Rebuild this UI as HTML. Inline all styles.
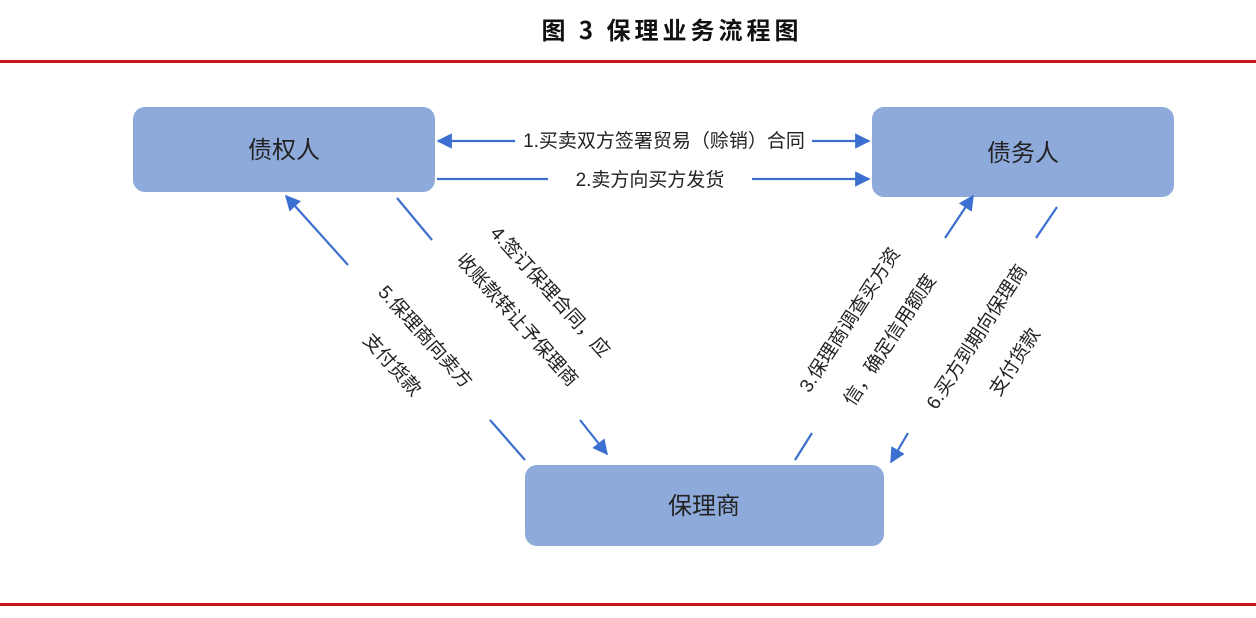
<!DOCTYPE html>
<html><head><meta charset="utf-8"><style>
html,body{margin:0;padding:0;background:#fff;}
svg{display:block;}
</style></head><body>
<svg width="1256" height="618" viewBox="0 0 1256 618" xmlns="http://www.w3.org/2000/svg" font-family="'Liberation Sans','Noto Sans CJK SC',sans-serif">
<defs>
<marker id="ah" viewBox="0 0 10 10" refX="9" refY="5" markerWidth="7" markerHeight="7" orient="auto-start-reverse" markerUnits="strokeWidth"><path d="M0,0 L10,5 L0,10 z" fill="#3b6fd0"/></marker>
</defs>
<text x="672" y="39" text-anchor="middle" font-family="'Noto Sans CJK SC',sans-serif" font-weight="bold" font-size="24" letter-spacing="4" fill="#111">图 3 保理业务流程图</text>
<rect x="0" y="60" width="1256" height="3" fill="#c8161d"/>
<rect x="0" y="603" width="1256" height="3" fill="#c8161d"/>

<rect x="133" y="107" width="302" height="85" rx="12" fill="#8eaadb"/>
<rect x="872" y="107" width="302" height="90" rx="12" fill="#8eaadb"/>
<rect x="525" y="465" width="359" height="81" rx="12" fill="#8eaadb"/>
<text x="284" y="158" text-anchor="middle" font-size="24" fill="#222">债权人</text>
<text x="1023" y="161" text-anchor="middle" font-size="24" fill="#222">债务人</text>
<text x="704" y="514" text-anchor="middle" font-size="24" fill="#222">保理商</text>

<g stroke="#3b6fd0" stroke-width="2.2" fill="none">
<line x1="515" y1="141" x2="438" y2="141" marker-end="url(#ah)"/>
<line x1="812" y1="141" x2="869" y2="141" marker-end="url(#ah)"/>
<line x1="437" y1="179" x2="548" y2="179"/>
<line x1="752" y1="179" x2="869" y2="179" marker-end="url(#ah)"/>
<line x1="348" y1="265" x2="286" y2="196" marker-end="url(#ah)"/>
<line x1="490" y1="420" x2="525" y2="460"/>
<line x1="397" y1="198" x2="432" y2="240"/>
<line x1="580" y1="420" x2="607" y2="454" marker-end="url(#ah)"/>
<line x1="945" y1="238" x2="973" y2="196" marker-end="url(#ah)"/>
<line x1="812" y1="433" x2="795" y2="460"/>
<line x1="1057" y1="207" x2="1036" y2="238"/>
<line x1="908" y1="433" x2="891" y2="462" marker-end="url(#ah)"/>
</g>

<g font-size="19" fill="#222" text-anchor="middle">
<text x="664" y="147">1.买卖双方签署贸易（赊销）合同</text>
<text x="650" y="186">2.卖方向买方发货</text>
<text transform="translate(550,292) rotate(48)" y="6">4.签订保理合同，应</text>
<text transform="translate(517,320) rotate(48)" y="6">收账款转让予保理商</text>
<text transform="translate(425,337) rotate(48)" y="6">5.保理商向卖方</text>
<text transform="translate(392,365) rotate(48)" y="6">支付货款</text>
<text transform="translate(850,320) rotate(-57)" y="6">3.保理商调查买方资</text>
<text transform="translate(890,340) rotate(-57)" y="6">信，确定信用额度</text>
<text transform="translate(977,337) rotate(-57)" y="6">6.买方到期向保理商</text>
<text transform="translate(1015,362) rotate(-57)" y="6">支付货款</text>
</g>
</svg>
</body></html>
